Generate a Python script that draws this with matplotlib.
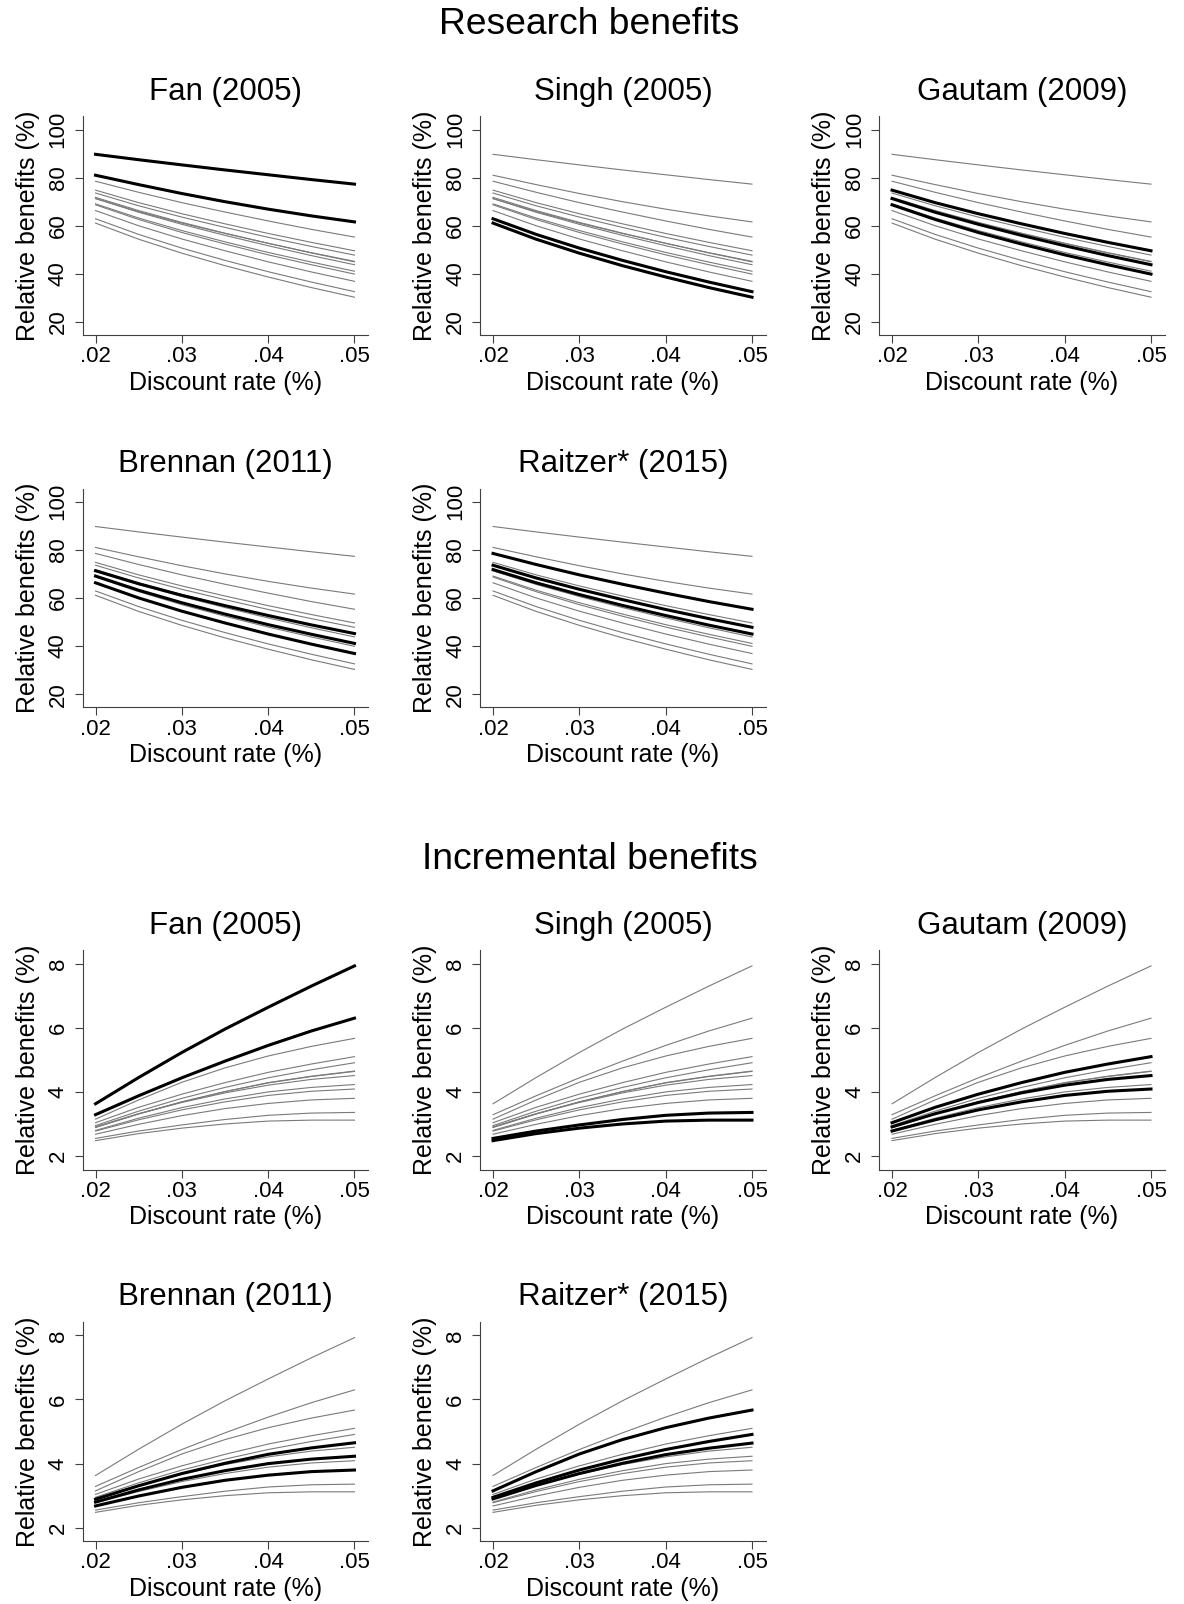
import matplotlib
matplotlib.use("Agg")
import matplotlib.pyplot as plt

plt.rcParams["font.family"] = ["Liberation Sans", "DejaVu Sans"]

# discount rates on the x axis
rates = [0.020, 0.025, 0.030, 0.035, 0.040, 0.045, 0.050]
studies = ["Fan (2005)", "Singh (2005)", "Gautam (2009)", "Brennan (2011)", "Raitzer* (2015)"]

# research benefits (%), one list per scenario line
research_fan = [
    [89.7, 87.45, 85.3, 83.2, 81.2, 79.2, 77.3],
    [81.0, 77.1, 73.4, 70.0, 66.9, 64.1, 61.6],
]
research_singh = [
    [62.9, 56.4, 50.7, 45.6, 40.9, 36.6, 32.6],
    [61.1, 54.4, 48.6, 43.4, 38.7, 34.3, 30.3],
]
research_gautam = [
    [74.8, 69.6, 65.0, 60.8, 56.8, 53.1, 49.6],
    [71.3, 65.6, 60.6, 56.0, 51.7, 47.6, 43.8],
    [68.7, 62.6, 57.2, 52.4, 47.9, 43.8, 39.9],
]
research_brennan = [
    [71.3, 65.9, 61.1, 56.8, 52.7, 48.8, 45.2],
    [69.1, 63.2, 58.0, 53.3, 48.9, 44.9, 41.1],
    [66.3, 60.0, 54.5, 49.6, 45.0, 40.8, 36.9],
]
research_raitzer = [
    [78.5, 73.9, 69.6, 65.7, 62.0, 58.5, 55.3],
    [73.6, 68.3, 63.6, 59.3, 55.2, 51.4, 47.8],
    [71.8, 66.3, 61.4, 56.9, 52.7, 48.7, 45.0],
]

# incremental benefits (%)
incremental_fan = [
    [3.63, 4.45, 5.23, 5.96, 6.64, 7.30, 7.93],
    [3.29, 3.88, 4.44, 4.96, 5.45, 5.90, 6.30],
]
incremental_singh = [
    [2.55, 2.78, 2.97, 3.14, 3.27, 3.34, 3.36],
    [2.48, 2.70, 2.87, 3.00, 3.09, 3.12, 3.12],
]
incremental_gautam = [
    [3.04, 3.52, 3.93, 4.29, 4.61, 4.87, 5.10],
    [2.91, 3.32, 3.67, 3.97, 4.21, 4.39, 4.51],
    [2.78, 3.13, 3.44, 3.69, 3.89, 4.02, 4.09],
]
incremental_brennan = [
    [2.89, 3.31, 3.69, 4.01, 4.29, 4.49, 4.65],
    [2.80, 3.18, 3.51, 3.78, 4.00, 4.14, 4.23],
    [2.68, 2.99, 3.26, 3.48, 3.64, 3.75, 3.80],
]
incremental_raitzer = [
    [3.15, 3.75, 4.30, 4.75, 5.12, 5.42, 5.67],
    [2.95, 3.40, 3.80, 4.14, 4.44, 4.69, 4.91],
    [2.90, 3.32, 3.69, 4.01, 4.28, 4.48, 4.64],
]

research = [research_fan, research_singh, research_gautam, research_brennan, research_raitzer]
incremental = [incremental_fan, incremental_singh, incremental_gautam,
               incremental_brennan, incremental_raitzer]

W, H = 1184, 1604
fig = plt.figure(figsize=(W / 100, H / 100), dpi=100)

col_left = [82.6, 480.1, 879.1]
ax_w = 285.7
axis_color = "#404040"


def panel(left, top, bottom, groups, k, ylim, yticks):
    ax = fig.add_axes([left / W, 1 - bottom / H, ax_w / W, (bottom - top) / H])
    for j, g in enumerate(groups):
        if j == k:
            continue
        for line in g:
            ax.plot(rates, line, color="#7a7a7a", lw=0.8, zorder=2)
    for line in groups[k]:
        ax.plot(rates, line, color="black", lw=2.2, zorder=3)
    ax.set_xlim(0.0185, 0.0516)
    ax.set_ylim(*ylim)
    ax.set_xticks([0.02, 0.03, 0.04, 0.05])
    ax.set_xticklabels([".02", ".03", ".04", ".05"])
    ax.set_yticks(yticks)
    ax.set_yticklabels([str(t) for t in yticks], rotation=90, va="center")
    for s in ["top", "right"]:
        ax.spines[s].set_visible(False)
    for s in ["left", "bottom"]:
        ax.spines[s].set_color(axis_color)
        ax.spines[s].set_linewidth(0.8)
    ax.tick_params(direction="out", length=6, width=0.8, color=axis_color,
                   labelsize=16)
    ax.tick_params(axis="x", pad=2)
    ax.tick_params(axis="y", pad=4)
    ax.set_xlabel("Discount rate (%)", fontsize=18, va="center")
    ax.set_ylabel("Relative benefits (%)", fontsize=18, va="center")
    ax.xaxis.set_label_coords(0.5, -47.5 / (bottom - top))
    ax.yaxis.set_label_coords(-55 / ax_w, 0.5)
    fig.text((left + ax_w / 2) / W, 1 - (top - 24.5) / H, studies[k],
             fontsize=22.5, ha="center", va="center")
    return ax


# research benefits block
fig.text(589.5 / W, 1 - 24.6 / H, "Research benefits", fontsize=26.8,
         ha="center", va="center")
rows_r = [(116.3, 335.2), (488.5, 707.4)]
for k in range(5):
    top, bottom = rows_r[k // 3]
    panel(col_left[k % 3], top, bottom, research, k, (14.5, 105.5), [20, 40, 60, 80, 100])

# incremental benefits block
fig.text(589.5 / W, 1 - 859.6 / H, "Incremental benefits", fontsize=26.8,
         ha="center", va="center")
rows_i = [(950.2, 1169.5), (1321.9, 1541.2)]
for k in range(5):
    top, bottom = rows_i[k // 3]
    panel(col_left[k % 3], top, bottom, incremental, k, (1.58, 8.42), [2, 4, 6, 8])

fig.savefig("out.png", dpi=100, facecolor="white")
